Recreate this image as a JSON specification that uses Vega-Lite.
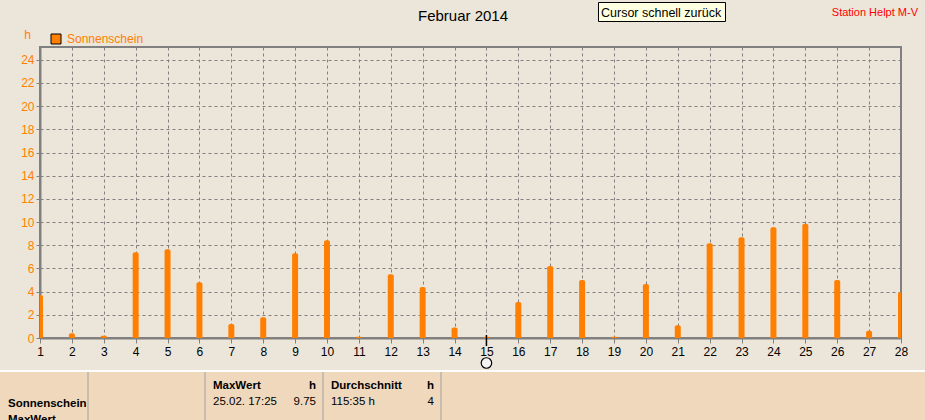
{
  "$schema": "https://vega.github.io/schema/vega-lite/v6.json",
  "width": 861,
  "height": 291,
  "autosize": "none",
  "padding": {"left": 40, "top": 47, "right": 24, "bottom": 82},
  "background": "#ECE5D9",
  "config": {
    "view": {"stroke": "#808080", "strokeWidth": 2},
    "font": "Liberation Sans",
    "axis": {"labelFont": "Liberation Sans", "titleFont": "Liberation Sans"}
  },
  "datasets": {
    "sun": [
      {"day": 1, "hours": 3.7, "series": "Sonnenschein"},
      {"day": 2, "hours": 0.4, "series": "Sonnenschein"},
      {"day": 3, "hours": 0.2, "series": "Sonnenschein"},
      {"day": 4, "hours": 7.4, "series": "Sonnenschein"},
      {"day": 5, "hours": 7.65, "series": "Sonnenschein"},
      {"day": 6, "hours": 4.8, "series": "Sonnenschein"},
      {"day": 7, "hours": 1.2, "series": "Sonnenschein"},
      {"day": 8, "hours": 1.8, "series": "Sonnenschein"},
      {"day": 9, "hours": 7.3, "series": "Sonnenschein"},
      {"day": 10, "hours": 8.43, "series": "Sonnenschein"},
      {"day": 11, "hours": 0.1, "series": "Sonnenschein"},
      {"day": 12, "hours": 5.5, "series": "Sonnenschein"},
      {"day": 13, "hours": 4.4, "series": "Sonnenschein"},
      {"day": 14, "hours": 0.9, "series": "Sonnenschein"},
      {"day": 15, "hours": 0.1, "series": "Sonnenschein"},
      {"day": 16, "hours": 3.1, "series": "Sonnenschein"},
      {"day": 17, "hours": 6.2, "series": "Sonnenschein"},
      {"day": 18, "hours": 5.0, "series": "Sonnenschein"},
      {"day": 19, "hours": 0.1, "series": "Sonnenschein"},
      {"day": 20, "hours": 4.65, "series": "Sonnenschein"},
      {"day": 21, "hours": 1.1, "series": "Sonnenschein"},
      {"day": 22, "hours": 8.17, "series": "Sonnenschein"},
      {"day": 23, "hours": 8.7, "series": "Sonnenschein"},
      {"day": 24, "hours": 9.55, "series": "Sonnenschein"},
      {"day": 25, "hours": 9.85, "series": "Sonnenschein"},
      {"day": 26, "hours": 5.0, "series": "Sonnenschein"},
      {"day": 27, "hours": 0.63, "series": "Sonnenschein"},
      {"day": 28, "hours": 3.95, "series": "Sonnenschein"}
    ],
    "one": [{}]
  },
  "encoding": {
    "x": {
      "field": "day", "type": "quantitative",
      "scale": {"domain": [1, 28], "nice": false, "zero": false, "padding": 0},
      "axis": {
        "title": null,
        "values": [1,2,3,4,5,6,7,8,9,10,11,12,13,14,15,16,17,18,19,20,21,22,23,24,25,26,27,28],
        "labelColor": "#000000", "labelFontSize": 12, "labelPadding": 3, "labelFlush": false, "labelOverlap": false,
        "tickColor": "#808080", "tickSize": 5,
        "domainColor": "#808080", "domainWidth": 2,
        "grid": true, "gridColor": "#808080", "gridDash": [3, 3], "gridWidth": 1
      }
    }
  },
  "layer": [
    {
      "data": {"name": "sun"},
      "mark": {"type": "bar", "width": 6, "clip": true, "cornerRadiusEnd": 2},
      "encoding": {
        "y": {
          "field": "hours", "type": "quantitative", "stack": null,
          "scale": {"domain": [0, 25.1], "nice": false},
          "axis": {
            "title": "h", "titleAngle": 0, "titleColor": "#FF8000", "titleFontSize": 12, "titleFontWeight": "normal",
            "titleX": -13, "titleY": -13, "titleAlign": "center", "titleBaseline": "middle",
            "values": [0,2,4,6,8,10,12,14,16,18,20,22,24],
            "labelColor": "#FF8000", "labelFontSize": 12, "labelPadding": 2, "labelFlush": false, "labelOverlap": false,
            "tickColor": "#808080", "tickSize": 4,
            "domainColor": "#808080", "domainWidth": 2,
            "grid": true, "gridColor": "#808080", "gridDash": [3, 3], "gridWidth": 1
          }
        },
        "color": {
          "field": "series", "type": "nominal",
          "scale": {"domain": ["Sonnenschein"], "range": ["#FF8000"]},
          "legend": {
            "title": null, "orient": "none", "legendX": 10, "legendY": -14,
            "symbolType": "square", "symbolSize": 100, "symbolStrokeColor": "#000000", "symbolStrokeWidth": 1,
            "labelColor": "#FF8000", "labelFontSize": 12, "labelFont": "Liberation Sans", "padding": 0, "labelOffset": 5
          }
        }
      }
    },
    {
      "data": {"name": "sun"},
      "transform": [{"filter": "datum.day == 15"}],
      "mark": {"type": "rule", "color": "#000000", "strokeWidth": 1.5},
      "encoding": {"y": {"value": 288}, "y2": {"value": 299}}
    },
    {
      "data": {"name": "sun"},
      "transform": [{"filter": "datum.day == 15"}],
      "mark": {"type": "point", "shape": "circle", "size": 110, "filled": true, "fill": "#F4F4F4", "stroke": "#000000", "strokeWidth": 1.2, "opacity": 1},
      "encoding": {"y": {"value": 316}}
    },
    {
      "data": {"name": "one"},
      "mark": {"type": "rect", "color": "#FFFFFF"},
      "encoding": {"x": {"value": -40}, "x2": {"value": 885}, "y": {"value": 323}, "y2": {"value": 373}}
    },
    {
      "data": {"name": "one"},
      "mark": {"type": "rect", "color": "#F0D8BD"},
      "encoding": {"x": {"value": -40}, "x2": {"value": 885}, "y": {"value": 325}, "y2": {"value": 373}}
    },
    {
      "data": {"name": "one"},
      "mark": {"type": "rule", "color": "#A0A0A0", "strokeWidth": 1},
      "encoding": {"x": {"value": 48}, "y": {"value": 325}, "y2": {"value": 373}}
    },
    {
      "data": {"name": "one"},
      "mark": {"type": "rule", "color": "#A0A0A0", "strokeWidth": 1},
      "encoding": {"x": {"value": 165}, "y": {"value": 325}, "y2": {"value": 373}}
    },
    {
      "data": {"name": "one"},
      "mark": {"type": "rule", "color": "#A0A0A0", "strokeWidth": 1},
      "encoding": {"x": {"value": 283}, "y": {"value": 325}, "y2": {"value": 373}}
    },
    {
      "data": {"name": "one"},
      "mark": {"type": "rule", "color": "#A0A0A0", "strokeWidth": 1},
      "encoding": {"x": {"value": 401}, "y": {"value": 325}, "y2": {"value": 373}}
    },
    {
      "data": {"name": "one"},
      "mark": {"type": "text", "text": "Sonnenschein", "font": "Liberation Sans", "fontSize": 11.5, "fontWeight": "bold", "align": "left", "baseline": "alphabetic", "color": "#000000"},
      "encoding": {"x": {"value": -32}, "y": {"value": 360}}
    },
    {
      "data": {"name": "one"},
      "mark": {"type": "text", "text": "MaxWert", "font": "Liberation Sans", "fontSize": 11.5, "fontWeight": "bold", "align": "left", "baseline": "alphabetic", "color": "#000000"},
      "encoding": {"x": {"value": -32}, "y": {"value": 376}}
    },
    {
      "data": {"name": "one"},
      "mark": {"type": "text", "text": "MaxWert", "font": "Liberation Sans", "fontSize": 11.5, "fontWeight": "bold", "align": "left", "baseline": "alphabetic", "color": "#000000"},
      "encoding": {"x": {"value": 173}, "y": {"value": 342}}
    },
    {
      "data": {"name": "one"},
      "mark": {"type": "text", "text": "h", "font": "Liberation Sans", "fontSize": 11.5, "fontWeight": "bold", "align": "right", "baseline": "alphabetic", "color": "#000000"},
      "encoding": {"x": {"value": 276}, "y": {"value": 342}}
    },
    {
      "data": {"name": "one"},
      "mark": {"type": "text", "text": "25.02.  17:25", "font": "Liberation Sans", "fontSize": 11.5, "align": "left", "baseline": "alphabetic", "color": "#000000"},
      "encoding": {"x": {"value": 173}, "y": {"value": 358}}
    },
    {
      "data": {"name": "one"},
      "mark": {"type": "text", "text": "9.75", "font": "Liberation Sans", "fontSize": 11.5, "align": "right", "baseline": "alphabetic", "color": "#000000"},
      "encoding": {"x": {"value": 276}, "y": {"value": 358}}
    },
    {
      "data": {"name": "one"},
      "mark": {"type": "text", "text": "Durchschnitt", "font": "Liberation Sans", "fontSize": 11.5, "fontWeight": "bold", "align": "left", "baseline": "alphabetic", "color": "#000000"},
      "encoding": {"x": {"value": 291}, "y": {"value": 342}}
    },
    {
      "data": {"name": "one"},
      "mark": {"type": "text", "text": "h", "font": "Liberation Sans", "fontSize": 11.5, "fontWeight": "bold", "align": "right", "baseline": "alphabetic", "color": "#000000"},
      "encoding": {"x": {"value": 394}, "y": {"value": 342}}
    },
    {
      "data": {"name": "one"},
      "mark": {"type": "text", "text": "115:35 h", "font": "Liberation Sans", "fontSize": 11.5, "align": "left", "baseline": "alphabetic", "color": "#000000"},
      "encoding": {"x": {"value": 291}, "y": {"value": 358}}
    },
    {
      "data": {"name": "one"},
      "mark": {"type": "text", "text": "4", "font": "Liberation Sans", "fontSize": 11.5, "align": "right", "baseline": "alphabetic", "color": "#000000"},
      "encoding": {"x": {"value": 394}, "y": {"value": 358}}
    },
    {
      "data": {"name": "one"},
      "mark": {"type": "rect", "fill": "#FFFFE1", "stroke": "#000000", "strokeWidth": 1},
      "encoding": {"x": {"value": 558.5}, "x2": {"value": 685.5}, "y": {"value": -44.5}, "y2": {"value": -25.5}}
    },
    {
      "data": {"name": "one"},
      "mark": {"type": "text", "text": "Cursor schnell zurück", "font": "Liberation Sans", "fontSize": 12.5, "align": "left", "baseline": "alphabetic", "color": "#000000"},
      "encoding": {"x": {"value": 561}, "y": {"value": -30}}
    },
    {
      "data": {"name": "one"},
      "mark": {"type": "text", "text": "Februar 2014", "font": "Liberation Sans", "fontSize": 15, "align": "center", "baseline": "alphabetic", "color": "#000000"},
      "encoding": {"x": {"value": 423}, "y": {"value": -26}}
    },
    {
      "data": {"name": "one"},
      "mark": {"type": "text", "text": "Station Helpt M-V", "font": "Liberation Sans", "fontSize": 11, "align": "right", "baseline": "alphabetic", "color": "#FF0000"},
      "encoding": {"x": {"value": 878}, "y": {"value": -31}}
    }
  ]
}
